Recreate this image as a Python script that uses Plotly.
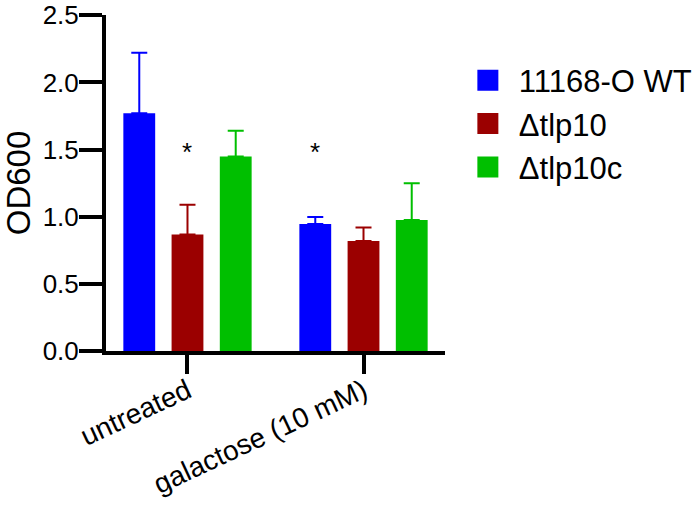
import plotly.graph_objects as go

# ---- data ----
categories = ["untreated", "galactose (10 mM)"]
series_names = ["11168-O WT", "\u0394tlp10", "\u0394tlp10c"]
series_colors = ["#0000FF", "#9B0000", "#00BF00"]
means = {
    "11168-O WT": [1.77, 0.946],
    "\u0394tlp10": [0.868, 0.819],
    "\u0394tlp10c": [1.448, 0.976],
}
sd_upper = {
    "11168-O WT": [0.45, 0.052],
    "\u0394tlp10": [0.221, 0.101],
    "\u0394tlp10c": [0.192, 0.273],
}
# significance markers: (category index, series index, y value)
sig_marks = [(0, 1, 1.48), (1, 0, 1.48)]
y_ticks = [0.0, 0.5, 1.0, 1.5, 2.0, 2.5]
y_tick_labels = ["0.0", "0.5", "1.0", "1.5", "2.0", "2.5"]

FONT = "Arial, Liberation Sans, Helvetica, sans-serif"
bargap = 0.178
n_series = len(series_names)

fig = go.Figure()
x_idx = list(range(len(categories)))
for name, color in zip(series_names, series_colors):
    fig.add_trace(go.Bar(
        x=x_idx, y=means[name], name=name,
        marker=dict(color=color, line=dict(width=0)),
        error_y=dict(type="data", symmetric=False, array=sd_upper[name],
                     arrayminus=[0] * len(categories), color=color,
                     thickness=2, width=8),
        showlegend=False,
    ))
    # legend entry with larger square swatch
    fig.add_trace(go.Scatter(
        x=[None], y=[None], mode="markers", name=name,
        marker=dict(symbol="square", size=16, color=color,
                    line=dict(color=color, width=5)),
        showlegend=True,
    ))

slot = (1 - bargap) / n_series
for ci, si, yv in sig_marks:
    fig.add_annotation(
        x=ci + (si - (n_series - 1) / 2) * slot, y=yv, text="*",
        showarrow=False, font=dict(size=26, color="black", family=FONT),
        xref="x", yref="y", yanchor="middle",
    )

fig.update_layout(
    width=700, height=508,
    margin=dict(l=106, r=255, t=15, b=157, autoexpand=False),
    plot_bgcolor="white", paper_bgcolor="white",
    barmode="group", bargap=bargap, bargroupgap=0.34,
    font=dict(family=FONT, color="black"),
    legend=dict(x=1.035, y=0.885, xanchor="left", yanchor="top",
                xref="paper", yref="paper",
                font=dict(size=31, family=FONT), tracegroupgap=0,
                itemwidth=52, bgcolor="rgba(0,0,0,0)"),
    showlegend=True,
)
fig.update_xaxes(
    range=[-0.463, 1.463], tickmode="array", tickvals=x_idx, ticktext=categories,
    tickangle=-25, tickfont=dict(size=28, family=FONT), automargin=False,
    ticklabelstandoff=-10,
    showline=True, linecolor="black", linewidth=4,
    ticks="outside", ticklen=19, tickwidth=4, tickcolor="black",
    showgrid=False, zeroline=False,
)
fig.update_yaxes(
    range=[0, 2.502], tickmode="array", tickvals=y_ticks, ticktext=y_tick_labels,
    tickfont=dict(size=26, family=FONT), automargin=False,
    ticklabeloverflow="allow", ticklabelstandoff=-5,
    title=dict(text="OD600", font=dict(size=33, family=FONT), standoff=25),
    showline=True, linecolor="black", linewidth=4,
    ticks="outside", ticklen=23, tickwidth=4, tickcolor="black",
    showgrid=False, zeroline=False,
)

fig.write_html("out.html", config={"displayModeBar": False},
               post_script="document.body.style.margin='0';")
